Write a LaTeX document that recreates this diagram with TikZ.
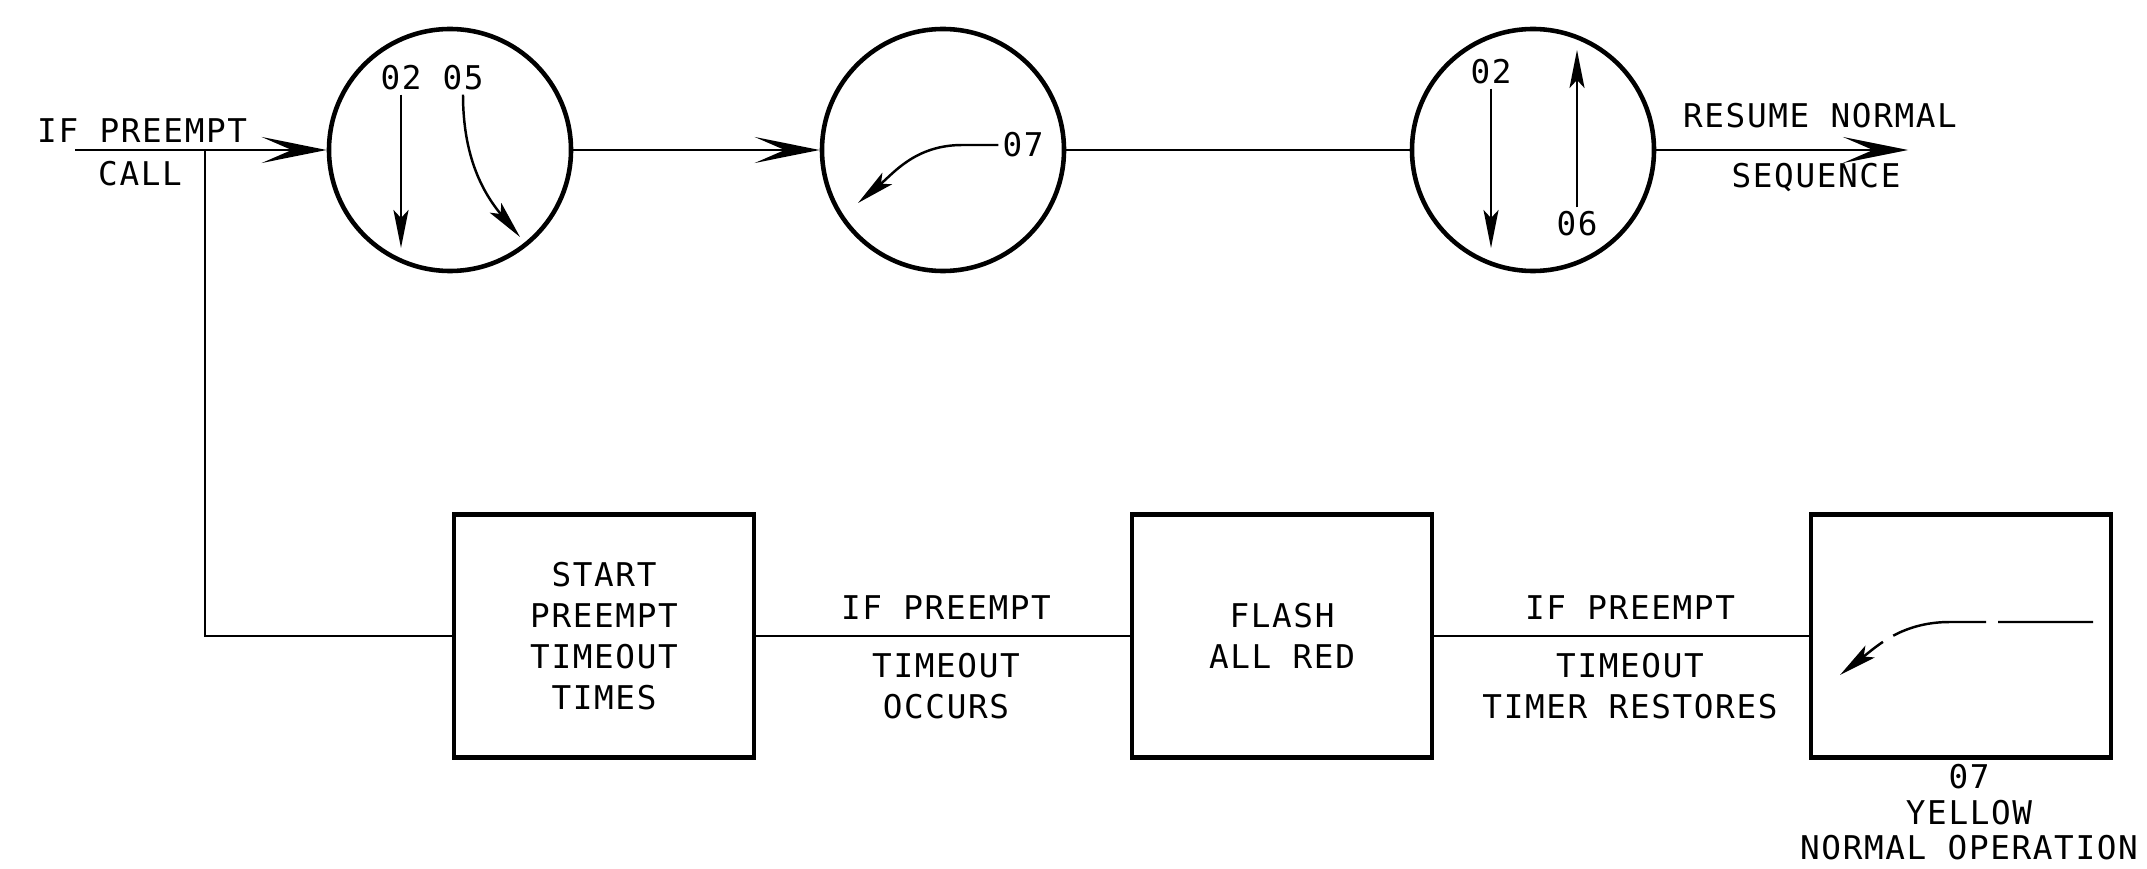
\documentclass[tikz,border=0pt]{standalone}
\usepackage{fontspec}
\newfontfamily\plotfont[LetterSpace=5]{DejaVu Sans Mono}
\usetikzlibrary{arrows.meta}
\usetikzlibrary{positioning}
\newcommand{\pmlnya}{-1.5cm}
\newcommand{\pmlnyb}{-6.36cm}
\newcommand{\pmcrxa}{4.5cm}
\newcommand{\pmcrxb}{9.43cm}
\newcommand{\pmcrxc}{15.33cm}
\newcommand{\pmbxxa}{6.04cm}
\newcommand{\pmbxxb}{12.82cm}
\newcommand{\pmbxxc}{19.61cm}
\newcommand{\pmlblxa}{9.46cm}
\newcommand{\pmlblxb}{16.3cm}
\newcommand{\pmlblup}{-6.08cm}
\newcommand{\pmlbldn}{-6.86cm}

\begin{document}
\begin{tikzpicture}[font=\plotfont\fontsize{9.3}{11.6}\selectfont,
    phase/.style={draw,circle,line width=1.3pt,minimum size=2.42cm,inner sep=0pt},
    stepbox/.style={draw,line width=1.3pt,minimum width=3cm,minimum height=2.43cm,
      align=center,inner sep=0pt},
    wire/.style={line width=0.85pt},
    bigarrow/.style={wire,-{Stealth[length=6.5mm,width=2.6mm,inset=3mm]}},
    smarrow/.style={line width=0.7pt,-{Stealth[length=3.8mm,width=1.5mm,inset=0.8mm]}},
    lbl/.style={inner sep=1pt}]
    \useasboundingbox (0,0) rectangle (21.47,-8.69);

    \node[phase] (cra) at (\pmcrxa,\pmlnya) {};
    \node[phase] (crb) at (\pmcrxb,\pmlnya) {};
    \node[phase] (crc) at (\pmcrxc,\pmlnya) {};
    \node[stepbox] (bxa) at (\pmbxxa,\pmlnyb) {START\\PREEMPT\\TIMEOUT\\TIMES};
    \node[stepbox] (bxb) at (\pmbxxb,\pmlnyb) {FLASH\\ALL RED};
    \node[stepbox] (bxc) at (\pmbxxc,\pmlnyb) {};
    \node[lbl,align=center,below=0cm of bxc,xshift=0.08cm,
      font=\plotfont\fontsize{9.3}{10.2}\selectfont] (yel)
      {07\\YELLOW\\NORMAL OPERATION};

    \coordinate (callin) at (0.75,\pmlnya);
    \coordinate (brpt) at (2.05,\pmlnya);
    \coordinate (resume) at (19.08,\pmlnya);
    \node[lbl,anchor=west] (ifcall) at (0.33,-1.31) {IF PREEMPT};
    \node[lbl] (call) at (1.4,-1.74) {CALL};
    \node[lbl] (resnorm) at (18.2,-1.16) {RESUME NORMAL};
    \node[lbl] (seq) at (18.16,-1.78) {SEQUENCE};

    \node[lbl] (ca02) at (4.01,-0.78) {02};
    \node[lbl] (ca05) at (4.63,-0.78) {05};
    \coordinate (ca02e) at (4.01,-2.48);
    \coordinate (ca05e) at (5.2,-2.37);
    \draw[smarrow] (ca02.south) -- (ca02e);
    \draw[smarrow] (ca05.south) to[out=-90,in=130] (ca05e);

    \node[lbl] (cb07) at (10.23,-1.45) {07};
    \coordinate (cb07e) at (8.58,-2.03);
    \draw[smarrow] (cb07.west) -- ++(-0.36,0) to[out=180,in=40] (cb07e);

    \node[lbl] (cc02) at (14.91,-0.72) {02};
    \node[lbl] (cc06) at (15.77,-2.24) {06};
    \coordinate (cc02e) at (14.91,-2.48);
    \coordinate (cc06e) at (15.77,-0.5);
    \draw[smarrow] (cc02.south) -- (cc02e);
    \draw[smarrow] (cc06.north) -- (cc06e);

    \coordinate (bxcs) at (20.93,-6.22);
    \coordinate (bxcb) at (19.5,-6.22);
    \coordinate (bxce) at (18.4,-6.75);
    \draw[smarrow,dash pattern=on 9.5mm off 1.2mm] (bxcs) -- (bxcb)
      to[out=180,in=38] (bxce);

    \node[lbl] (ifto) at (\pmlblxa,\pmlblup) {IF PREEMPT};
    \node[lbl,align=center] (tooc) at (\pmlblxa,\pmlbldn) {TIMEOUT\\OCCURS};
    \node[lbl] (ifrs) at (\pmlblxb,\pmlblup) {IF PREEMPT};
    \node[lbl,align=center] (tors) at (\pmlblxb,\pmlbldn) {TIMEOUT\\TIMER RESTORES};

    \draw[bigarrow] (callin) -- (cra);
    \draw[bigarrow] (cra) -- (crb);
    \draw[wire] (crb) -- (crc);
    \draw[bigarrow] (crc) -- (resume);
    \draw[wire] (brpt) |- (bxa.west);
    \draw[wire] (bxa) -- (bxb);
    \draw[wire] (bxb) -- (bxc);
  \end{tikzpicture}
\end{document}
